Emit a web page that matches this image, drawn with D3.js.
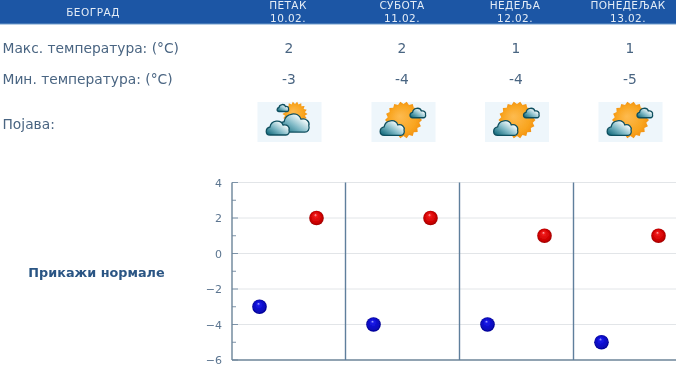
<!DOCTYPE html>
<html><head><meta charset="utf-8">
<script src="https://cdn.jsdelivr.net/npm/d3@7"></script>
<style>html,body{margin:0;padding:0;background:#fff;overflow:hidden}svg{display:block}text{font-family:"DejaVu Sans",sans-serif}</style>
</head><body><svg id="c" width="676" height="380"></svg>
<script>
const city = "БЕОГРАД";
const dayNames = ["ПЕТАК","СУБОТА","НЕДЕЉА","ПОНЕДЕЉАК"];
const dates = ["10.02.","11.02.","12.02.","13.02."];
const maxTemps = [2,2,1,1];
const minTemps = [-3,-4,-4,-5];
const iconKinds = ["cloudy","sunny","sunny","sunny"];
const rowLabels = ["Макс. температура: (°C)","Мин. температура: (°C)","Појава:"];
const normalsLabel = "Прикажи нормале";
const yTicks = [4,2,0,-2,-4,-6];
const yMinor = [3,1,-1,-3,-5];

const svg = d3.select("#c");
const defs = svg.append("defs");
function radial(id, stops, fx, fy){
  const g = defs.append("radialGradient").attr("id",id).attr("cx","50%").attr("cy","50%").attr("r","52%").attr("fx",fx).attr("fy",fy);
  stops.forEach(s=>g.append("stop").attr("offset",s[0]).attr("stop-color",s[1]));
}
radial("ballRed",[[0,"#ffb0b0"],[0.2,"#f01818"],[0.75,"#cc0000"],[1,"#980000"]],"42%","28%");
radial("ballBlue",[[0,"#a8a8ff"],[0.2,"#1818e8"],[0.75,"#0808bc"],[1,"#04048a"]],"42%","28%");
radial("sun",[[0,"#fdbb50"],[0.7,"#f9a520"],[1,"#f29010"]],"40%","40%");
const cl = defs.append("linearGradient").attr("id","cloud").attr("x1",0).attr("y1",0.9).attr("x2",0.9).attr("y2",0.1);
cl.append("stop").attr("offset",0).attr("stop-color","#0d6678");
cl.append("stop").attr("offset",0.45).attr("stop-color","#7fb9c6");
cl.append("stop").attr("offset",0.85).attr("stop-color","#f4fafb");
defs.append("filter").attr("id","soft").append("feGaussianBlur").attr("stdDeviation",0.35);

const root = svg.append("g").attr("filter","url(#soft)");
const band = d3.scaleBand().domain(d3.range(dayNames.length)).range([231,687]);
const y = d3.scaleLinear().domain([-6,4]).range([360,182.5]);

// header
root.append("rect").attr("x",0).attr("y",0).attr("width",676).attr("height",24).attr("fill","#1b56a5");
root.append("rect").attr("x",0).attr("y",23.5).attr("width",676).attr("height",1).attr("fill","#6f9ccc");
root.append("text").attr("x",93).attr("y",16).attr("text-anchor","middle").attr("fill","#e4ecf6").attr("font-size",10.5).attr("letter-spacing",0.5).text(city);
dayNames.forEach((d,i)=>{
  const hx=[288,402,515,628][i];
  root.append("text").attr("x",hx).attr("y",8.5).attr("text-anchor","middle").attr("fill","#e4ecf6").attr("font-size",10.5).attr("letter-spacing",0.4).text(d);
  root.append("text").attr("x",hx).attr("y",22).attr("text-anchor","middle").attr("fill","#e4ecf6").attr("font-size",10.5).attr("letter-spacing",0.4).text(dates[i]);
});

// rows
const rowY=[53,84,129];
rowLabels.forEach((t,i)=>root.append("text").attr("x",2.5).attr("y",rowY[i]).attr("fill","#4a6582").attr("font-size",13.8).text(t));
const valX=[289,402,516,630];
maxTemps.forEach((v,i)=>root.append("text").attr("x",valX[i]).attr("y",53).attr("text-anchor","middle").attr("fill","#4a6582").attr("font-size",13.8).text(v));
minTemps.forEach((v,i)=>root.append("text").attr("x",valX[i]).attr("y",84).attr("text-anchor","middle").attr("fill","#4a6582").attr("font-size",13.8).text(v));

// icons
function cloud(g,cx,cy,s){
  const c=g.append("g").attr("transform",`translate(${cx},${cy}) scale(${s})`);
  c.append("path").attr("d","M-8,7 C-13,7 -13,0 -8,-1 C-7,-8 3,-9 5,-3 C9,-4 12,-1 11,2 C12,5 10,7 8,7 Z")
   .attr("fill","url(#cloud)").attr("stroke","#0f4f5f").attr("stroke-width",1.3/s);
}
function sunShape(g,cx,cy,r){
  const n=18;
  const star=d3.range(n*2).map(k=>{const a=k*Math.PI/n,rr=k%2?r:r+2.5;return [cx+rr*Math.cos(a),cy+rr*Math.sin(a)];});
  g.append("polygon").attr("points",star.join(" ")).attr("fill","url(#sun)");
}
iconKinds.forEach((k,i)=>{
  const ix=[289.5,403.5,517,630.5][i];
  const g=root.append("g").attr("transform",`translate(${ix},122)`);
  g.append("rect").attr("x",-32).attr("y",-20).attr("width",64).attr("height",40).attr("fill","#eef6fb");
  if(k==="cloudy"){
    sunShape(g,5.5,-8,10);
    cloud(g,-6.5,-14,0.5);
    cloud(g,5,1,1.3);
    cloud(g,-11.5,6,1.0);
  } else {
    sunShape(g,0,-2,16);
    cloud(g,14.5,-9,0.68);
    cloud(g,-11,6,1.05);
  }
});

root.append("text").attr("x",96.5).attr("y",277).attr("text-anchor","middle").attr("fill","#2a5584").attr("font-size",12.8).attr("font-weight","bold").text(normalsLabel);

// chart
const plot=root.append("g");
plot.selectAll("line.g").data(yTicks.filter(t=>t>-6)).join("line").attr("class","g")
  .attr("x1",232).attr("x2",676).attr("y1",y).attr("y2",y).attr("stroke","#e2e5e8").attr("stroke-width",1);
const axis=d3.axisLeft(y).tickValues(yTicks).tickFormat(d=>d<0?"−"+(-d):d).tickSize(0).tickPadding(10);
const ag=plot.append("g").attr("transform","translate(232,0)").call(axis);
ag.select(".domain").remove();
ag.selectAll("text").attr("fill","#5b7590").attr("font-size",11).attr("font-family","Liberation Sans,sans-serif");
plot.selectAll("line.maj").data(yTicks).join("line").attr("class","maj").attr("x1",232).attr("x2",238).attr("y1",y).attr("y2",y).attr("stroke","#7d93a8");
plot.selectAll("line.min").data(yMinor).join("line").attr("class","min").attr("x1",232).attr("x2",236).attr("y1",y).attr("y2",y).attr("stroke","#7d93a8");
plot.append("line").attr("x1",232).attr("x2",232).attr("y1",y(4)).attr("y2",y(-6)).attr("stroke","#6c8499").attr("stroke-width",1.4);
plot.append("line").attr("x1",232).attr("x2",676).attr("y1",y(-6)).attr("y2",y(-6)).attr("stroke","#6c8499").attr("stroke-width",1.4);
plot.selectAll("line.div").data(d3.range(1,dayNames.length)).join("line").attr("class","div")
  .attr("x1",i=>band(i)+0.5).attr("x2",i=>band(i)+0.5).attr("y1",y(4)).attr("y2",y(-6)).attr("stroke","#5f7f9c").attr("stroke-width",1.4);

const bw=band.bandwidth();
plot.selectAll("circle.lo").data(minTemps).join("circle").attr("class","lo")
  .attr("cx",(d,i)=>band(i)+bw*0.25).attr("cy",d=>y(d)).attr("r",7.3).attr("fill","url(#ballBlue)");
plot.selectAll("circle.hi").data(maxTemps).join("circle").attr("class","hi")
  .attr("cx",(d,i)=>band(i)+bw*0.75).attr("cy",d=>y(d)).attr("r",7.3).attr("fill","url(#ballRed)");
</script></body></html>
